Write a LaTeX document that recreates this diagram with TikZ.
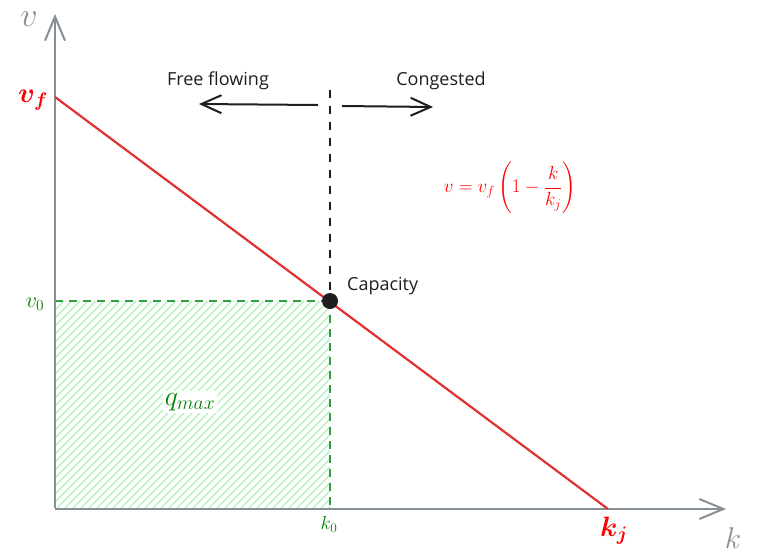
\RequirePackage{fix-cm}
\documentclass[tikz,border=0pt]{standalone}
\usepackage{amsmath}
\usepackage{fontspec}
\newfontfamily\hand{Open Sans}
\usetikzlibrary{arrows.meta}
\definecolor{axisgray}{HTML}{868E96}
\definecolor{redline}{HTML}{E03131}
\definecolor{labred}{HTML}{FF0000}
\definecolor{grn}{HTML}{2F9E44}
\definecolor{labgrn}{HTML}{008000}
\definecolor{hatchgrn}{HTML}{B2F2BB}
\definecolor{ink}{HTML}{1E1E1E}
\tikzset{
  axis/.style={draw=axisgray, line width=2.6pt, -{Straight Barb[length=24pt,width=20pt,line width=2pt]}},
  demand/.style={draw=redline, line width=2.2pt},
  guide/.style={draw=grn, line width=2.2pt, dash pattern=on 8pt off 6pt},
  sep/.style={draw=ink, line width=2pt, dash pattern=on 8pt off 8pt},
  dir/.style={draw=ink, line width=2pt, -{Straight Barb[length=20pt,width=18pt,line width=2pt]}},
  hatchline/.style={draw=hatchgrn, line width=1.1pt},
  handtext/.style={text=ink, font=\hand\fontsize{18}{20}\selectfont, inner sep=0pt},
}
\begin{document}
\begin{tikzpicture}[x=1pt,y=-1pt]
\useasboundingbox (0,0) rectangle (757,558);
\fill[white] (0,0) rectangle (757,558);
\coordinate (O) at (55,509);
\coordinate (ytop) at (55,14);
\coordinate (xend) at (726,509);
\coordinate (vf) at (55,97);
\coordinate (kj) at (608,509);
\coordinate (C) at (330,301);
\coordinate (v0) at (55,301);
\coordinate (k0) at (330,509);
\coordinate (septop) at (330,90);
\coordinate (lstart) at (318,105);
\coordinate (lend) at (199,104);
\coordinate (rstart) at (342,106);
\coordinate (rend) at (433,107);
% hatch
\begin{scope}
\clip (55,301) rectangle (330,509);
\foreach \s in {-160,-152,...,336} \draw[hatchline] (\s,509) -- ++(230,-230);
\end{scope}
% q_max label
\node[fill=white, inner sep=2pt, text=labgrn, font=\fontsize{28}{28}\selectfont] (qmax) at (190,402) {$q_{max}$};
% guides
\draw[guide] (v0) -- (C);
\draw[guide] (C) -- (k0);
% axes
\draw[axis] (O) -- (xend);
\draw[axis] ([yshift=1.3pt]O) -- (ytop);
% demand line
\draw[demand] (vf) -- (kj);
% separator
\draw[sep] (septop) -- (C);
\draw[dir] (lstart) -- (lend);
\draw[dir] (rstart) -- (rend);
\fill[ink] (C) circle (8pt);
% labels
\node[handtext] (free) at (218,81) {Free flowing};
\node[handtext] (cong) at (441,81) {Congested};
\node[handtext, anchor=west] (cap) at (347,286) {Capacity};
\node[text=labred, font=\fontsize{19}{19}\selectfont] (eq) at (510,188) {$\displaystyle v=v_f\left(1-\frac{k}{k_j}\right)$};
\node[text=axisgray, font=\fontsize{34}{34}\selectfont] (vlab) at (29,19) {$v$};
\node[text=axisgray, font=\fontsize{30}{30}\selectfont] (klab) at (733,538) {$k$};
\node[text=labred, font=\fontsize{28}{28}\selectfont] (vflab) at (33,100) {$\boldsymbol{v_f}$};
\node[text=labred, font=\fontsize{28}{28}\selectfont] (kjlab) at (614,531) {$\boldsymbol{k_j}$};
\node[text=labgrn, font=\fontsize{22}{22}\selectfont] (v0lab) at (35,304) {$v_0$};
\node[text=labgrn, font=\fontsize{19}{19}\selectfont] (k0lab) at (329,524) {$k_0$};
\end{tikzpicture}
\end{document}
